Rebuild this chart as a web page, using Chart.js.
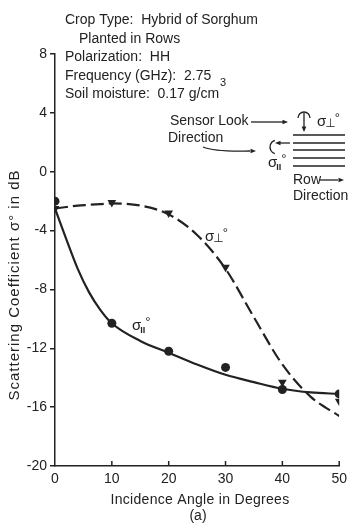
<!DOCTYPE html>
<html>
<head>
<meta charset="utf-8">
<script src="https://cdn.jsdelivr.net/npm/chart.js@4.4.1/dist/chart.umd.min.js"></script>
<style>
  html, body { margin: 0; padding: 0; background: #ffffff; }
  #wrap { width: 352px; height: 523px; }
</style>
</head>
<body>
<div id="wrap"><canvas id="c" width="352" height="523"></canvas></div>
<script>
// ---- data ----
const xTicks = [0, 10, 20, 30, 40, 50];
const yTicks = [-20, -16, -12, -8, -4, 0, 4, 8];
const angles = [0, 10, 20, 30, 40, 50];
const sigmaParMeasured = [-2.0, -10.3, -12.2, -13.3, -14.8, -15.1];
const sigmaPerpMeasured = [-2.5, -2.1, -2.8, -6.5, -14.3, -15.6];
const curveAngles = [0, 2, 4, 6, 8, 10, 15, 20, 25, 30, 35, 40, 45, 50];
const sigmaParCurve = [-2.5, -4.6, -6.6, -8.2, -9.4, -10.3, -11.5, -12.3, -13.1, -13.8, -14.3, -14.75, -15.0, -15.1];
const sigmaPerpCurve = [-2.5, -2.4, -2.3, -2.25, -2.2, -2.15, -2.3, -2.9, -4.3, -6.6, -9.9, -13.1, -15.3, -16.6];

const INK = '#222222';
const FONT = "'Liberation Sans', Arial, sans-serif";

function pts(xs, ys) { return xs.map((x, i) => ({ x: x, y: ys[i] })); }

Chart.defaults.font.family = FONT;
Chart.defaults.font.size = 14;
Chart.defaults.color = INK;

function arrowHead(ctx, x, y, ang, size) {
  ctx.beginPath();
  ctx.moveTo(x, y);
  ctx.lineTo(x - size * Math.cos(ang - 0.4), y - size * Math.sin(ang - 0.4));
  ctx.lineTo(x - size * Math.cos(ang + 0.4), y - size * Math.sin(ang + 0.4));
  ctx.closePath();
  ctx.fill();
}

function sigma(ctx, x, y, sub) {
  ctx.font = '15px ' + FONT;
  ctx.textAlign = 'left';
  ctx.textBaseline = 'middle';
  ctx.fillText('σ', x, y);
  const w = ctx.measureText('σ').width;
  ctx.font = '10px ' + FONT;
  let sw;
  if (sub === 'perp') {
    ctx.font = '12px ' + "'DejaVu Sans', sans-serif";
    ctx.fillText('⊥', x + w - 1, y + 2);
    sw = ctx.measureText('⊥').width - 1;
  } else {
    ctx.font = 'bold 9px ' + FONT;
    ctx.fillText('II', x + w - 1, y + 5);
    sw = ctx.measureText('II').width;
  }
  ctx.font = '13px ' + FONT;
  ctx.fillText('°', x + w + sw - 1, y - 4);
}

const annotations = {
  id: 'annotations',
  afterDraw(chart) {
    const ctx = chart.ctx;
    const xs = chart.scales.x, ys = chart.scales.y;
    ctx.save();
    ctx.fillStyle = INK;
    ctx.strokeStyle = INK;
    // inward ticks on the x axis
    ctx.lineWidth = 1.5;
    xTicks.forEach(t => {
      if (t === 0) return;
      const px = xs.getPixelForValue(t);
      ctx.beginPath();
      ctx.moveTo(px, ys.bottom);
      ctx.lineTo(px, ys.bottom - 5);
      ctx.stroke();
    });

    ctx.textBaseline = 'middle';
    ctx.textAlign = 'left';
    ctx.font = '14px ' + FONT;
    ctx.fillText('Crop Type:  Hybrid of Sorghum', 65, 20);
    ctx.fillText('Planted in Rows', 79, 39);
    ctx.fillText('Polarization:  HH', 65, 57);
    ctx.fillText('Frequency (GHz):  2.75', 65, 76);
    ctx.fillText('Soil moisture:  0.17 g/cm', 65, 94);
    const sw = ctx.measureText('Soil moisture:  0.17 g/cm').width;
    ctx.font = '11px ' + FONT;
    ctx.fillText('3', 65 + sw + 1, 83);

    // sensor look direction
    ctx.font = '14px ' + FONT;
    ctx.fillText('Sensor Look', 170, 121);
    ctx.fillText('Direction', 168, 138);
    ctx.lineWidth = 1.3;
    ctx.beginPath(); ctx.moveTo(251, 122); ctx.lineTo(283, 122); ctx.stroke();
    arrowHead(ctx, 288, 122, 0, 6);
    ctx.beginPath(); ctx.moveTo(203, 147); ctx.quadraticCurveTo(215, 152, 250, 151); ctx.stroke();
    arrowHead(ctx, 256, 151, 0, 6);

    // perpendicular symbol
    ctx.beginPath(); ctx.arc(304, 118, 6, Math.PI, 2 * Math.PI); ctx.stroke();
    ctx.beginPath(); ctx.moveTo(304, 113); ctx.lineTo(304, 127); ctx.stroke();
    arrowHead(ctx, 304, 132, Math.PI / 2, 6);
    sigma(ctx, 317, 122, 'perp');

    // parallel symbol
    ctx.beginPath(); ctx.arc(277, 147, 7, Math.PI * 0.6, Math.PI * 1.4); ctx.stroke();
    ctx.beginPath(); ctx.moveTo(280, 143); ctx.lineTo(290, 143); ctx.stroke();
    arrowHead(ctx, 275, 143, Math.PI, 6);
    sigma(ctx, 268, 163, 'par');

    // rows
    ctx.lineWidth = 1.6;
    [135, 143, 150, 158, 166].forEach(yy => {
      ctx.beginPath(); ctx.moveTo(293, yy); ctx.lineTo(345, yy); ctx.stroke();
    });
    ctx.font = '14px ' + FONT;
    ctx.fillText('Row', 293, 180);
    ctx.lineWidth = 1.3;
    ctx.beginPath(); ctx.moveTo(320, 180); ctx.lineTo(338, 180); ctx.stroke();
    arrowHead(ctx, 344, 180, 0, 6);
    ctx.fillText('Direction', 293, 196);

    // curve labels
    sigma(ctx, 205, 237, 'perp');
    sigma(ctx, 132, 326, 'par');

    // y axis title
    ctx.save();
    ctx.translate(15, 285);
    ctx.rotate(-Math.PI / 2);
    ctx.textAlign = 'center';
    ctx.font = '15px ' + FONT;
    if ('letterSpacing' in ctx) ctx.letterSpacing = '1px';
    ctx.fillText('Scattering Coefficient σ° in dB', 0, 0);
    ctx.restore();

    // x axis title and caption
    ctx.textAlign = 'center';
    ctx.font = '14px ' + FONT;
    if ('letterSpacing' in ctx) ctx.letterSpacing = '0.3px';
    ctx.fillText('Incidence Angle in Degrees', 200, 500);
    ctx.letterSpacing = '0px';
    ctx.fillText('(a)', 198, 516);
    ctx.restore();
  }
};

new Chart(document.getElementById('c'), {
  type: 'line',
  data: {
    datasets: [
      {
        label: 'σ∥° fit', data: pts(curveAngles, sigmaParCurve),
        borderColor: INK, borderWidth: 2.2, pointRadius: 0,
        cubicInterpolationMode: 'monotone', fill: false
      },
      {
        label: 'σ⊥° fit', data: pts(curveAngles, sigmaPerpCurve),
        borderColor: INK, borderWidth: 2.2, borderDash: [13, 5], pointRadius: 0,
        cubicInterpolationMode: 'monotone', fill: false
      },
      {
        label: 'σ∥° measured', data: pts(angles, sigmaParMeasured), showLine: false,
        pointStyle: 'circle', pointRadius: 4.5, backgroundColor: INK, borderColor: INK, borderWidth: 0
      },
      {
        label: 'σ⊥° measured', data: pts(angles, sigmaPerpMeasured), showLine: false,
        pointStyle: 'triangle', rotation: 180, pointRadius: 5, backgroundColor: INK, borderColor: INK, borderWidth: 0
      }
    ]
  },
  options: {
    responsive: false,
    animation: false,
    events: [],
    layout: { autoPadding: false, padding: { left: 0, right: 7, top: 54, bottom: 0 } },
    plugins: { legend: { display: false }, tooltip: { enabled: false } },
    scales: {
      x: {
        type: 'linear', min: 0, max: 50,
        afterFit: s => { s.height = 57; },
        afterBuildTicks: s => { s.ticks = xTicks.map(v => ({ value: v })); },
        border: { display: true, color: INK, width: 1.5 },
        grid: { display: true, drawOnChartArea: false, drawTicks: false },
        ticks: { padding: 5, font: { size: 14 }, color: INK, maxRotation: 0 }
      },
      y: {
        type: 'linear', min: -20, max: 8,
        afterFit: s => { s.width = 55; },
        afterBuildTicks: s => { s.ticks = yTicks.map(v => ({ value: v })); },
        border: { display: true, color: INK, width: 1.5 },
        grid: { display: true, drawOnChartArea: false, drawTicks: true, tickLength: 5, color: INK, lineWidth: 1.5 },
        ticks: { padding: 3, font: { size: 14 }, color: INK }
      }
    }
  },
  plugins: [annotations]
});
</script>
</body>
</html>
